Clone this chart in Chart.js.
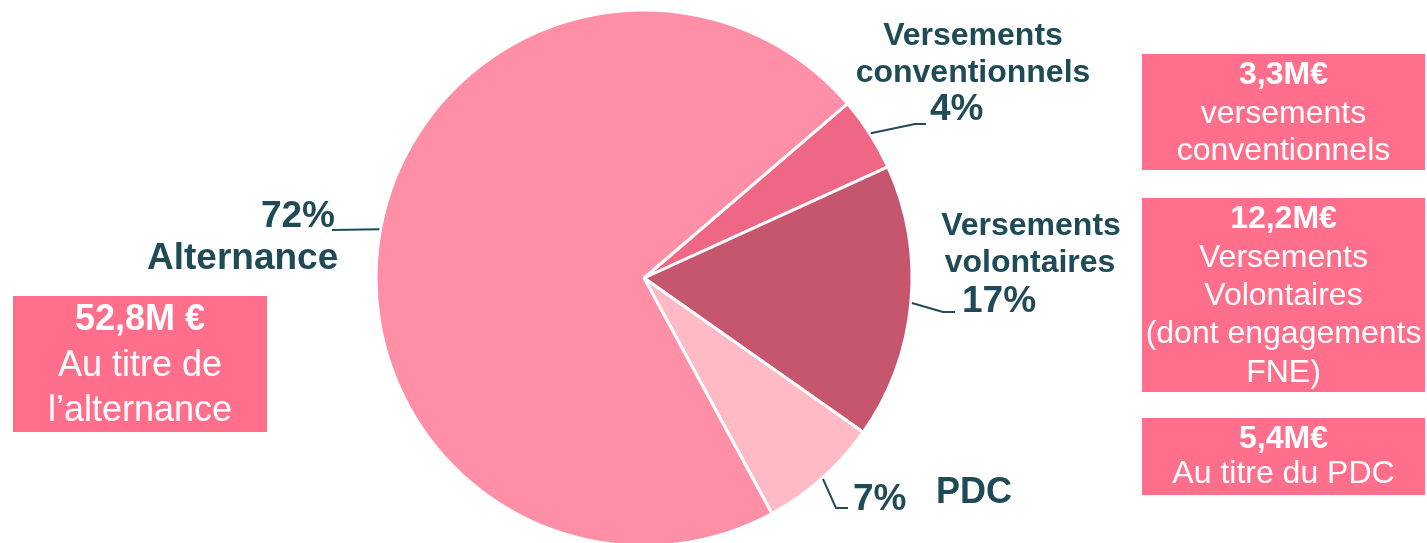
<!DOCTYPE html>
<html>
<head>
<meta charset="utf-8">
<script src="https://cdn.jsdelivr.net/npm/chart.js"></script>
<style>
  html, body { margin: 0; padding: 0; background: #fff; overflow: hidden; }
  #wrap { position: relative; width: 1427px; height: 543px; }
</style>
</head>
<body>
<div id="wrap"><canvas id="repartition"></canvas></div>
<script>
// données (M€), dans l'ordre horaire à partir du haut-droite
var categories = ["Versements conventionnels", "Versements volontaires", "PDC", "Alternance"];
var montants = [3.3, 12.2, 5.4, 52.8];
var pourcentages = ["4%", "17%", "7%", "72%"];
var couleurs = ["#EE6785", "#C5566E", "#FFBAC6", "#FF8FA6"];

// textes des encadrés
var boxTitres = ["52,8M €", "3,3M€", "12,2M€", "5,4M€"];
var boxLignes = [
  ["Au titre de", "l\u2019alternance"],
  ["versements", "conventionnels"],
  ["Versements", "Volontaires", "(dont engagements", "FNE)"],
  ["Au titre du PDC"]
];

var TEAL = "#1E4B55";
var FONT = "'Liberation Sans', Arial, sans-serif";

// position des étiquettes (par part) : coude et fin du trait, lignes de texte
var etiquettes = [
  { coude: [915, 124], fin: [926, 124],
    textes: [["Versements", 973, 45, 32, "center"], ["conventionnels", 973, 82, 32, "center"], ["4%", 930, 120, 37, "left"]] },
  { coude: [943, 312], fin: [955, 312],
    textes: [["Versements", 1031, 235, 32, "center"], ["volontaires", 1030, 272, 32, "center"], ["17%", 962, 312, 37, "left"]] },
  { coude: [836, 508], fin: [848, 508],
    textes: [["7%", 853, 510, 37, "left"], ["PDC", 936, 503, 36, "left"]] },
  { coude: [332, 230], fin: [332, 230],
    textes: [["72%", 335, 227, 37, "right"], ["Alternance", 147, 269, 37, "left"]] }
];

// encadrés : x, y, largeur, hauteur, taille police, baselines
var boxes = [
  { x: 13, y: 296, w: 254, h: 136, size: 36, lignes: [330, 376, 421] },
  { x: 1142, y: 54, w: 283, h: 116, size: 32, lignes: [84, 123, 160] },
  { x: 1142, y: 198, w: 283, h: 194, size: 32, lignes: [228, 267, 305, 343, 382] },
  { x: 1142, y: 418, w: 283, h: 77, size: 32, lignes: [448, 483] }
];

var annotations = {
  id: "annotations",
  afterDraw: function(chart) {
    var ctx = chart.ctx;
    var arcs = chart.getDatasetMeta(0).data;
    ctx.save();
    // traits de rappel depuis le milieu de chaque part
    arcs.forEach(function(arc, i) {
      var p = arc.getProps(["x", "y", "startAngle", "endAngle", "outerRadius"], true);
      var a = (p.startAngle + p.endAngle) / 2;
      var r = p.outerRadius + 1;
      var e = etiquettes[i];
      ctx.beginPath();
      ctx.moveTo(p.x + Math.cos(a) * r, p.y + Math.sin(a) * r);
      ctx.lineTo(e.coude[0], e.coude[1]);
      ctx.lineTo(e.fin[0], e.fin[1]);
      ctx.strokeStyle = TEAL;
      ctx.lineWidth = 2;
      ctx.stroke();
      ctx.fillStyle = TEAL;
      ctx.textBaseline = "alphabetic";
      e.textes.forEach(function(t) {
        ctx.font = "bold " + t[3] + "px " + FONT;
        ctx.textAlign = t[4];
        ctx.fillText(t[0], t[1], t[2]);
      });
    });
    // encadrés roses
    boxes.forEach(function(b, i) {
      ctx.fillStyle = "#FF6F8C";
      ctx.fillRect(b.x, b.y, b.w, b.h);
      ctx.fillStyle = "#FFFFFF";
      ctx.textAlign = "center";
      var cx = b.x + b.w / 2;
      ctx.font = "bold " + b.size + "px " + FONT;
      ctx.fillText(boxTitres[i], cx, b.lignes[0]);
      ctx.font = b.size + "px " + FONT;
      boxLignes[i].forEach(function(l, k) {
        ctx.fillText(l, cx, b.lignes[k + 1]);
      });
    });
    ctx.restore();
  }
};

new Chart(document.getElementById("repartition"), {
  type: "pie",
  data: {
    labels: categories,
    datasets: [{
      data: montants,
      backgroundColor: couleurs,
      borderColor: "#FFFFFF",
      borderWidth: 3,
      clip: false
    }]
  },
  options: {
    responsive: true,
    maintainAspectRatio: false,
    animation: false,
    rotation: 49.4,
    radius: 268,
    layout: { padding: { left: 376, right: 515, top: 100, bottom: 87 } },
    plugins: {
      legend: { display: false },
      tooltip: { enabled: false }
    }
  },
  plugins: [annotations]
});
</script>
</body>
</html>
